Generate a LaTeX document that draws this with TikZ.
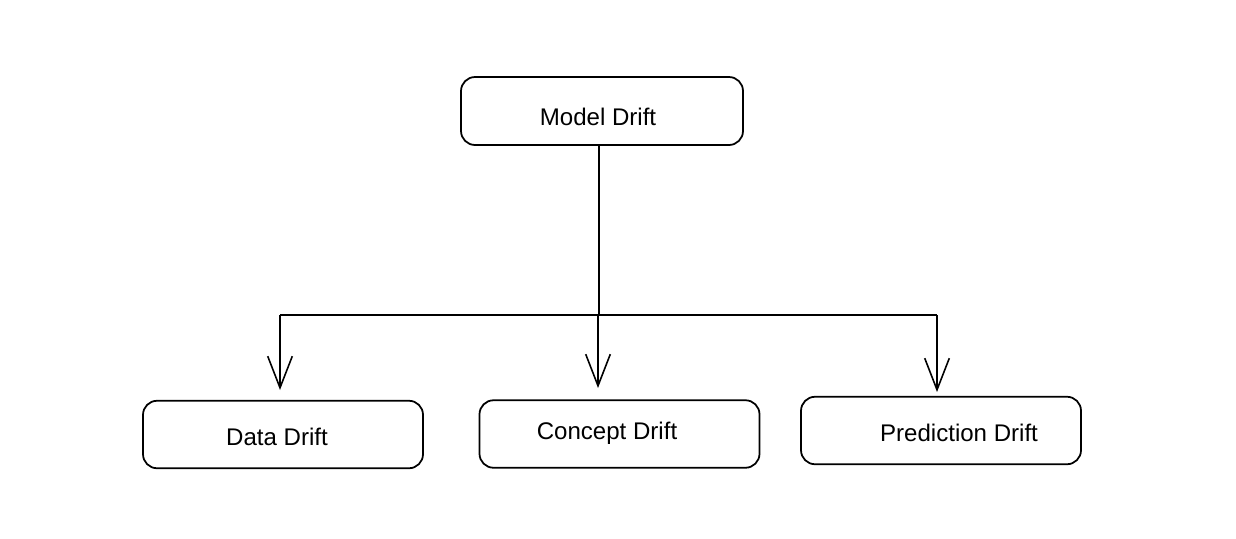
\documentclass[tikz,border=0pt]{standalone}
\usepackage{fontspec}
\setmainfont{Liberation Sans}
\usetikzlibrary{arrows.meta, positioning}

\tikzset{
  box/.style={draw, line width=1pt, rounded corners=8pt, minimum width=5.6cm, minimum height=1.35cm},
  lbl/.style={font=\fontsize{13.7}{16}\selectfont, inner sep=0pt},
  tip/.style={-{Straight Barb[length=18pt,width=14pt]}, line width=0.9pt},
}

\begin{document}
\begin{tikzpicture}
    \useasboundingbox (0,0) rectangle (24.72,-10.76);

    % boxes
    \node[box, minimum width=5.64cm, minimum height=1.36cm] at (12.04,-2.22) (model) {};
    \node[box] at (5.66,-8.69) (data) {};
    \node[box] at (12.39,-8.68) (concept) {};
    \node[box] at (18.82,-8.61) (pred) {};

    % labels
    \node[lbl] at (11.96,-2.34) (model-t) {Model Drift};
    \node[lbl] at (5.54,-8.74) (data-t) {Data Drift};
    \node[lbl] at (12.14,-8.66) (concept-t) {Concept Drift};
    \node[lbl] at (19.18,-8.66) (pred-t) {Prediction Drift};

    % connectors
    \coordinate (hub) at (11.98,-6.3);
    \coordinate (dtip) at (5.6,-7.8);
    \coordinate (ctip) at (11.96,-7.76);
    \coordinate (ptip) at (18.74,-7.84);

    \draw[line width=0.9pt] (model.south -| hub) -- (hub);
    \draw[line width=0.9pt] (hub -| dtip) -- (hub -| ptip);
    \draw[tip] (hub -| dtip) -- (dtip);
    \draw[tip] (hub -| ctip) -- (ctip);
    \draw[tip] (hub -| ptip) -- (ptip);
\end{tikzpicture}
\end{document}
